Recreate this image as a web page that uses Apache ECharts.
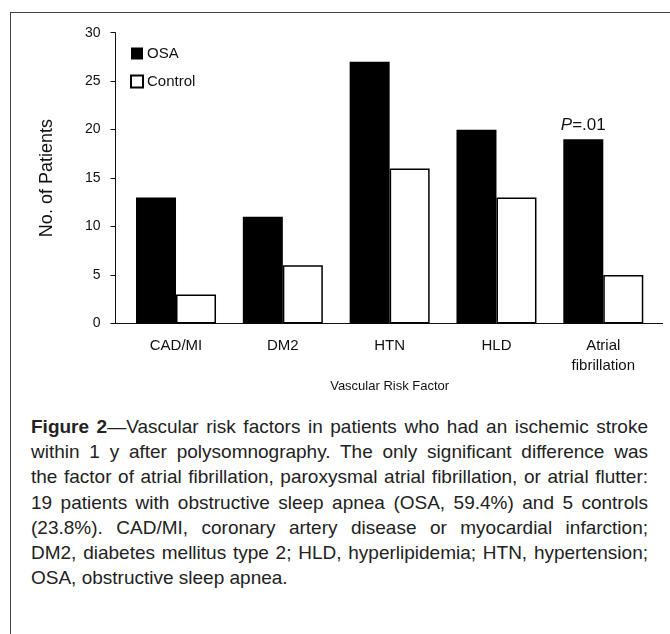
<!DOCTYPE html>
<html>
<head>
<meta charset="utf-8">
<script src="https://cdn.jsdelivr.net/npm/echarts@6/dist/echarts.min.js"></script>
<style>
  html, body { margin: 0; padding: 0; background: #fff; overflow: hidden; width: 670px; height: 634px; }
  #frame { position: absolute; left: 10px; top: 12px; width: 800px; height: 800px; border: 1px solid #444; }
  #main { position: absolute; left: 0; top: 0; width: 670px; height: 400px; }
  #cap { position: absolute; left: 31px; top: 414px; width: 617px; font-family: "Liberation Sans", Arial, sans-serif; font-size: 19px; line-height: 25.2px; color: #222; }
  #cap div { text-align: justify; text-align-last: justify; white-space: nowrap; }
  #cap div.last { text-align-last: left; }
</style>
</head>
<body>
<div id="frame"></div>
<div id="main"></div>
<div id="cap">
  <div><b>Figure 2</b>—Vascular risk factors in patients who had an ischemic stroke</div>
  <div>within 1 y after polysomnography. The only significant difference was</div>
  <div>the factor of atrial fibrillation, paroxysmal atrial fibrillation, or atrial flutter:</div>
  <div>19 patients with obstructive sleep apnea (OSA, 59.4%) and 5 controls</div>
  <div>(23.8%). CAD/MI, coronary artery disease or myocardial infarction;</div>
  <div>DM2, diabetes mellitus type 2; HLD, hyperlipidemia; HTN, hypertension;</div>
  <div class="last">OSA, obstructive sleep apnea.</div>
</div>
<script>
// data
var categories = ['CAD/MI', 'DM2', 'HTN', 'HLD', 'Atrial\nfibrillation'];
var osaValues = [13, 11, 27, 20, 19];
var controlValues = [3, 6, 16, 13, 5];
var yMin = 0, yMax = 30, yStep = 5;
var pIndex = 4; // significant one

var chart = echarts.init(document.getElementById('main'));

var osaData = osaValues.map(function (v, i) {
  if (i !== pIndex) return v;
  return {
    value: v,
    label: {
      show: true,
      position: 'top',
      distance: 6,
      formatter: '{i|P}{n|=.01}',
      rich: {
        i: { fontStyle: 'italic', fontSize: 17, color: '#111' },
        n: { fontSize: 17, color: '#111' }
      }
    }
  };
});

var option = {
  animation: false,
  textStyle: { fontFamily: 'Liberation Sans, Arial, sans-serif', color: '#111' },
  legend: {
    data: ['OSA', 'Control'],
    orient: 'vertical',
    left: 130,
    top: 46,
    padding: 0,
    itemWidth: 12,
    itemHeight: 12,
    itemGap: 13,
    icon: 'rect',
    textStyle: { fontSize: 15, color: '#111', padding: [0, 0, 0, -1] }
  },
  grid: [
    { left: 115.5, right: 7.3, top: 32.7, bottom: 76.5 },  // axis lines
    { left: 122.6, right: 13.3, top: 32.7, bottom: 76.5 }  // bars
  ],
  xAxis: [
    {
      gridIndex: 0, type: 'value', min: 0, max: 1,
      axisLine: { show: true, lineStyle: { color: '#111', width: 1 } },
      axisTick: { show: false }, axisLabel: { show: false }, splitLine: { show: false }
    },
    {
      gridIndex: 1, type: 'category', data: categories,
      axisLine: { show: false }, axisTick: { show: false },
      axisLabel: { margin: 12, fontSize: 15, lineHeight: 20, color: '#111' },
      name: 'Vascular Risk Factor', nameLocation: 'middle', nameGap: 54,
      nameTextStyle: { fontSize: 13, color: '#111' }
    }
  ],
  yAxis: [
    {
      gridIndex: 0, type: 'value', min: yMin, max: yMax, interval: yStep,
      axisLine: { show: true, lineStyle: { color: '#111', width: 1 } },
      axisTick: { show: true, length: 5, lineStyle: { color: '#111' } },
      axisLabel: { margin: 15, fontSize: 14, color: '#111' },
      splitLine: { show: false },
      name: 'No. of Patients', nameLocation: 'middle', nameGap: 59,
      nameTextStyle: { fontSize: 18, color: '#111' }
    },
    { gridIndex: 1, type: 'value', min: yMin, max: yMax, show: false }
  ],
  series: [
    {
      name: 'OSA', type: 'bar', xAxisIndex: 1, yAxisIndex: 1,
      data: osaData, barWidth: 40, barGap: '0%',
      itemStyle: { color: '#000' }
    },
    {
      name: 'Control', type: 'bar', xAxisIndex: 1, yAxisIndex: 1,
      data: controlValues, barWidth: 40, barGap: '0%',
      itemStyle: { color: '#fff', borderColor: '#000', borderWidth: 1.5 }
    }
  ]
};
chart.setOption(option);
</script>
</body>
</html>
